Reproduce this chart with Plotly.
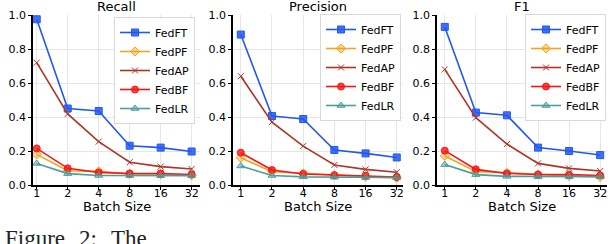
import plotly.graph_objects as go

W, H = 610, 244

batch_labels = ["1", "2", "4", "8", "16", "32"]
methods = ["FedFT", "FedPF", "FedAP", "FedBF", "FedLR"]

recall_fedft = [0.975, 0.450, 0.435, 0.231, 0.220, 0.197]
recall_fedpf = [0.180, 0.084, 0.080, 0.065, 0.063, 0.057]
recall_fedap = [0.720, 0.418, 0.255, 0.134, 0.108, 0.094]
recall_fedbf = [0.215, 0.098, 0.074, 0.068, 0.068, 0.062]
recall_fedlr = [0.127, 0.067, 0.056, 0.055, 0.055, 0.055]

precision_fedft = [0.885, 0.406, 0.388, 0.206, 0.186, 0.162]
precision_fedpf = [0.160, 0.078, 0.069, 0.057, 0.049, 0.042]
precision_fedap = [0.640, 0.370, 0.229, 0.118, 0.092, 0.075]
precision_fedbf = [0.190, 0.088, 0.065, 0.058, 0.055, 0.047]
precision_fedlr = [0.112, 0.056, 0.048, 0.046, 0.044, 0.044]

f1_fedft = [0.930, 0.426, 0.410, 0.220, 0.200, 0.176]
f1_fedpf = [0.171, 0.080, 0.072, 0.061, 0.053, 0.047]
f1_fedap = [0.680, 0.396, 0.241, 0.127, 0.098, 0.082]
f1_fedbf = [0.202, 0.092, 0.068, 0.062, 0.061, 0.056]
f1_fedlr = [0.120, 0.061, 0.051, 0.049, 0.049, 0.049]

panel_titles = ["Recall", "Precision", "F1"]
panel_data = [
    [recall_fedft, recall_fedpf, recall_fedap, recall_fedbf, recall_fedlr],
    [precision_fedft, precision_fedpf, precision_fedap, precision_fedbf, precision_fedlr],
    [f1_fedft, f1_fedpf, f1_fedap, f1_fedbf, f1_fedlr],
]
y_ticks = [0.0, 0.2, 0.4, 0.6, 0.8, 1.0]
x_title = "Batch Size"
caption_words = ["Figure", "2:", "The"]

colors = ["#2157f3", "#f5a31c", "#b03426", "#fb1414", "#4a9e9e"]
fills = ["rgba(33,87,243,0.85)", "rgba(245,163,28,0.45)", "#b03426",
         "rgba(251,20,20,0.8)", "rgba(74,158,158,0.45)"]
symbols = ["square", "diamond", "x-thin", "circle", "triangle-up"]
sizes = [7, 7, 6, 7, 7]

# pixel geometry of panels
panels_px = [(33, 200), (233, 403), (437, 607)]
xranges = [[-0.12, 5.27], [-0.25, 5.2], [-0.25, 5.22]]
top_px, bot_px = 15, 185
legend_pos = [(195, 17), (401, 14), (606, 14)]
caption_x = [3, 77, 109]

fig = go.Figure()
font_family = "DejaVu Sans"

for p in range(3):
    xa = "x" if p == 0 else f"x{p+1}"
    ya = "y" if p == 0 else f"y{p+1}"
    leg = "legend" if p == 0 else f"legend{p+1}"
    for i, m in enumerate(methods):
        fig.add_trace(go.Scatter(
            x=list(range(len(batch_labels))), y=panel_data[p][i],
            mode="lines+markers", name=m, xaxis=xa, yaxis=ya, legend=leg,
            line=dict(color=colors[i], width=1.6),
            marker=dict(symbol=symbols[i], size=sizes[i], color=fills[i],
                        line=dict(color=colors[i], width=1)),
        ))
    l, r = panels_px[p]
    xkey = "xaxis" if p == 0 else f"xaxis{p+1}"
    ykey = "yaxis" if p == 0 else f"yaxis{p+1}"
    fig.layout[xkey] = dict(
        domain=[l / W, r / W], range=xranges[p], anchor=ya, automargin=False,
        tickmode="array", tickvals=list(range(len(batch_labels))), ticktext=batch_labels,
        showgrid=True, gridcolor="#e6e6e6", gridwidth=1,
        showline=True, linecolor="black", linewidth=1.5,
        ticks="outside", ticklen=3, tickcolor="black", ticklabelstandoff=-6,
        tickfont=dict(family=font_family, size=11, color="black"),
        zeroline=False, fixedrange=True,
    )
    fig.layout[ykey] = dict(
        domain=[1 - bot_px / H, 1 - top_px / H], range=[0, 1.0], anchor=xa, automargin=False,
        tickmode="array", tickvals=y_ticks, ticktext=[f"{v:.1f}" for v in y_ticks],
        showgrid=True, gridcolor="#e6e6e6", gridwidth=1,
        showline=True, linecolor="black", linewidth=1.5,
        ticks="outside", ticklen=3, tickcolor="black",
        tickfont=dict(family=font_family, size=11, color="black"),
        zeroline=False, fixedrange=True,
    )
    lx, ly = legend_pos[p]
    fig.layout[leg] = dict(
        x=lx / W, y=1 - ly / H, xanchor="right", yanchor="top",
        xref="paper", yref="paper",
        bgcolor="white", bordercolor="#d9d9d9", borderwidth=1,
        font=dict(family=font_family, size=11, color="black"),
        tracegroupgap=0, itemwidth=30,
    )
    cx = (l + r) / 2
    fig.add_annotation(x=cx / W, y=1 - 6 / H, xref="paper", yref="paper",
                       text=panel_titles[p], showarrow=False, xanchor="center", yanchor="middle",
                       font=dict(family=font_family, size=13, color="black"))
    fig.add_annotation(x=cx / W, y=1 - 206 / H, xref="paper", yref="paper",
                       text=x_title, showarrow=False, xanchor="center", yanchor="middle",
                       borderpad=0,
                       font=dict(family=font_family, size=13, color="black"))

for word, wx in zip(caption_words, caption_x):
    fig.add_annotation(x=wx / W, y=1 - 224 / H, xref="paper", yref="paper",
                       text=word, showarrow=False, xanchor="left", yanchor="top",
                       font=dict(family="Liberation Serif", size=23, color="#222222"))

fig.update_layout(
    width=W, height=H, margin=dict(l=0, r=0, t=0, b=0, autoexpand=False),
    paper_bgcolor="white", plot_bgcolor="white",
    showlegend=True,
)

fig.write_html("out.html", config={"displayModeBar": False},
               post_script="document.body.style.margin='0px';document.body.style.overflow='hidden';")
